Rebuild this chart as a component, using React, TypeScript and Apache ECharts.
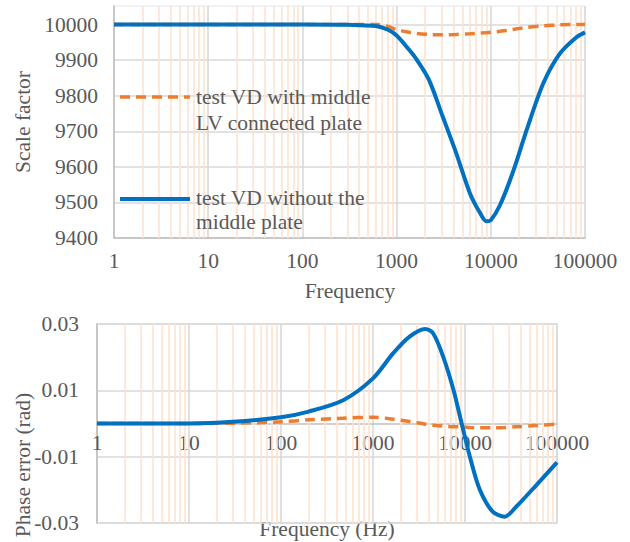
import React, { useEffect, useRef } from "react";
import * as echarts from "echarts";

// ---- Data ----
const scaleFreq = [1, 10, 100, 300, 600, 800, 1000, 1300, 1600, 2200, 3100, 4300, 6000, 7700, 9000, 10000, 12500, 17000, 24000, 36000, 54000, 80000, 100000];
const scaleWithout = [10000, 10000, 10000, 9999, 9996, 9986, 9969, 9935, 9905, 9845, 9740, 9638, 9526, 9470, 9447, 9450, 9492, 9582, 9703, 9834, 9918, 9963, 9978];
const scaleWithMiddle = [10000, 10000, 10000, 10000, 10000, 9995, 9986, 9979, 9975, 9972, 9971, 9972, 9974, 9976, 9977, 9978, 9981, 9986, 9992, 9996, 9999, 10000, 10000];

const phaseFreq = [1, 10, 30, 100, 200, 480, 1000, 1660, 2500, 3700, 4500, 5800, 7500, 9200, 11300, 14500, 20000, 27000, 36000, 60000, 100000];
const phaseWithout = [0, 0, 0.0005, 0.0019, 0.0036, 0.0071, 0.0136, 0.0212, 0.0262, 0.0285, 0.0272, 0.0201, 0.0101, 0, -0.01, -0.02, -0.0266, -0.0281, -0.0251, -0.0185, -0.0117];
const phaseWithMiddle = [0, 0, 0.0001, 0.0005, 0.0011, 0.0016, 0.0019, 0.0013, 0.0006, -0.0002, -0.0005, -0.0008, -0.001, -0.001, -0.0012, -0.0013, -0.0013, -0.0012, -0.001, -0.0006, -0.0002];

const legendWith = "test VD with middle\nLV connected plate";
const legendWithout = "test VD without the\nmiddle plate";
const scaleYTitle = "Scale factor";
const scaleXTitle = "Frequency";
const phaseYTitle = "Phase error (rad)";
const phaseXTitle = "Frequency (Hz)";

// log-grid structure: decades and in-decade multipliers
const decades = [1, 10, 100, 1000, 10000];
const multipliers = [2, 3, 4, 5, 6, 7, 8, 9];

const BLUE = "#0070C0";
const ORANGE = "#ED7D31";
const TEXT = "#595959";
const FONT = "Liberation Serif";
const FS = 21.5;

export default function App() {
  const ref = useRef<HTMLDivElement>(null);
  useEffect(() => {
    if (!ref.current) return;
    const chart = echarts.init(ref.current, undefined, { renderer: "svg" });
    const minorLines: { xAxis: number }[] = [];
    decades.forEach((d) => multipliers.forEach((m) => minorLines.push({ xAxis: d * m })));

    const minorSeries = (idx: number) => ({
      type: "line",
      xAxisIndex: idx,
      yAxisIndex: idx,
      data: [],
      z: 1,
      silent: true,
      markLine: {
        silent: true,
        z: 1,
        symbol: ["none", "none"],
        label: { show: false },
        lineStyle: { color: "#fde3d0", width: 1.6, type: "solid" },
        data: minorLines,
        animation: false,
      },
    });

    const xAxisBase = {
      type: "log",
      logBase: 10,
      min: 1,
      max: 100000,
      axisTick: { show: false },
      axisLabel: { color: TEXT, fontFamily: FONT, fontSize: FS, formatter: (v: number) => String(Math.round(v)) },
      splitLine: { show: true, lineStyle: { color: "#d9d9d9", width: 1.6 } },
    };

    const option: any = {
      animation: false,
      backgroundColor: "#ffffff",
      grid: [
        { left: 114, right: 45, top: 6, height: 232, show: true, borderColor: "#e3eaf4", borderWidth: 1 },
        { left: 97, right: 73, top: 324, height: 199, show: true, borderColor: "#d6e2f0", borderWidth: 1.5 },
      ],
      xAxis: [
        {
          ...xAxisBase,
          gridIndex: 0,
          axisLine: { show: true, onZero: false, lineStyle: { color: "#bfbfbf", width: 1.5 } },
          axisLabel: { ...xAxisBase.axisLabel, margin: 12 },
        },
        {
          ...xAxisBase,
          gridIndex: 1,
          position: "bottom",
          offset: -99.5,
          axisLine: { show: true, onZero: false, lineStyle: { color: "#bfbfbf", width: 1.5 } },
          axisLabel: { ...xAxisBase.axisLabel, margin: 8 },
        },
      ],
      yAxis: [
        {
          type: "value",
          gridIndex: 0,
          min: 9400,
          max: 10052,
          interval: 100,
          axisLine: { show: true, lineStyle: { color: "#bfbfbf", width: 1.5 } },
          axisTick: { show: false },
          axisLabel: {
            color: TEXT,
            fontFamily: FONT,
            fontSize: FS,
            margin: 16,
            formatter: (v: number) => (Math.round(v) % 100 === 0 ? String(Math.round(v)) : ""),
          },
          splitLine: {
            show: true,
            lineStyle: { color: ["#d9d9d9", "#d9d9d9", "#d9d9d9", "#d9d9d9", "#d9d9d9", "#d9d9d9", "#d9d9d9", "#eef2f8"], width: 1.6 },
          },
        },
        {
          type: "value",
          gridIndex: 1,
          min: -0.03,
          max: 0.03,
          interval: 0.02,
          axisLine: { show: true, onZero: false, lineStyle: { color: "#bfbfbf", width: 1.5 } },
          axisTick: { show: false },
          axisLabel: {
            color: TEXT,
            fontFamily: FONT,
            fontSize: FS,
            margin: 18,
            formatter: (v: number) => {
              const r = Math.round(v * 100) / 100;
              return r.toFixed(2);
            },
          },
          splitLine: { show: true, lineStyle: { color: "#d9d9d9", width: 1.6 } },
        },
      ],
      series: [
        minorSeries(0),
        minorSeries(1),
        {
          name: "with middle",
          type: "line",
          xAxisIndex: 0,
          yAxisIndex: 0,
          data: scaleFreq.map((f, i) => [f, scaleWithMiddle[i]]),
          showSymbol: false,
          smooth: 0.3,
          z: 6,
          lineStyle: { color: ORANGE, width: 3.5, type: [10, 6], cap: "butt" },
        },
        {
          name: "without",
          type: "line",
          xAxisIndex: 0,
          yAxisIndex: 0,
          data: scaleFreq.map((f, i) => [f, scaleWithout[i]]),
          showSymbol: false,
          smooth: 0.3,
          z: 7,
          lineStyle: { color: BLUE, width: 4 },
        },
        {
          name: "with middle",
          type: "line",
          xAxisIndex: 1,
          yAxisIndex: 1,
          data: phaseFreq.map((f, i) => [f, phaseWithMiddle[i]]),
          showSymbol: false,
          smooth: 0.3,
          z: 6,
          lineStyle: { color: ORANGE, width: 3.5, type: [10, 6], cap: "butt" },
        },
        {
          name: "without",
          type: "line",
          xAxisIndex: 1,
          yAxisIndex: 1,
          data: phaseFreq.map((f, i) => [f, phaseWithout[i]]),
          showSymbol: false,
          smooth: 0.3,
          z: 7,
          lineStyle: { color: BLUE, width: 4 },
        },
      ],
      graphic: [
        // legend: dashed orange
        {
          type: "line",
          z: 10,
          shape: { x1: 120, y1: 97, x2: 190, y2: 97 },
          style: { stroke: ORANGE, lineWidth: 3.5, lineDash: [10, 6] },
        },
        {
          type: "text",
          z: 10,
          left: 196,
          top: 84,
          style: { text: legendWith, fill: TEXT, font: `${FS}px ${FONT}`, lineHeight: 26 },
        },
        {
          type: "line",
          z: 10,
          shape: { x1: 120, y1: 199, x2: 190, y2: 199 },
          style: { stroke: BLUE, lineWidth: 4 },
        },
        {
          type: "text",
          z: 10,
          left: 196,
          top: 186,
          style: { text: legendWithout, fill: TEXT, font: `${FS}px ${FONT}`, lineHeight: 24 },
        },
        // axis titles
        {
          type: "text",
          x: 23,
          y: 122,
          rotation: Math.PI / 2,
          style: { text: scaleYTitle, fill: TEXT, font: `${FS}px ${FONT}`, align: "center", verticalAlign: "middle" },
        },
        {
          type: "text",
          x: 350,
          y: 291,
          style: { text: scaleXTitle, fill: TEXT, font: `${FS}px ${FONT}`, align: "center", verticalAlign: "middle" },
        },
        {
          type: "text",
          x: 23,
          y: 465,
          rotation: Math.PI / 2,
          style: { text: phaseYTitle, fill: TEXT, font: `${FS}px ${FONT}`, align: "center", verticalAlign: "middle" },
        },
        {
          type: "text",
          x: 327,
          y: 529,
          style: { text: phaseXTitle, fill: TEXT, font: `${FS}px ${FONT}`, align: "center", verticalAlign: "middle" },
        },
      ],
    };
    chart.setOption(option);
    return () => chart.dispose();
  }, []);
  return <div ref={ref} style={{ position: "absolute", left: 0, top: 0, width: 630, height: 542 }} />;
}
